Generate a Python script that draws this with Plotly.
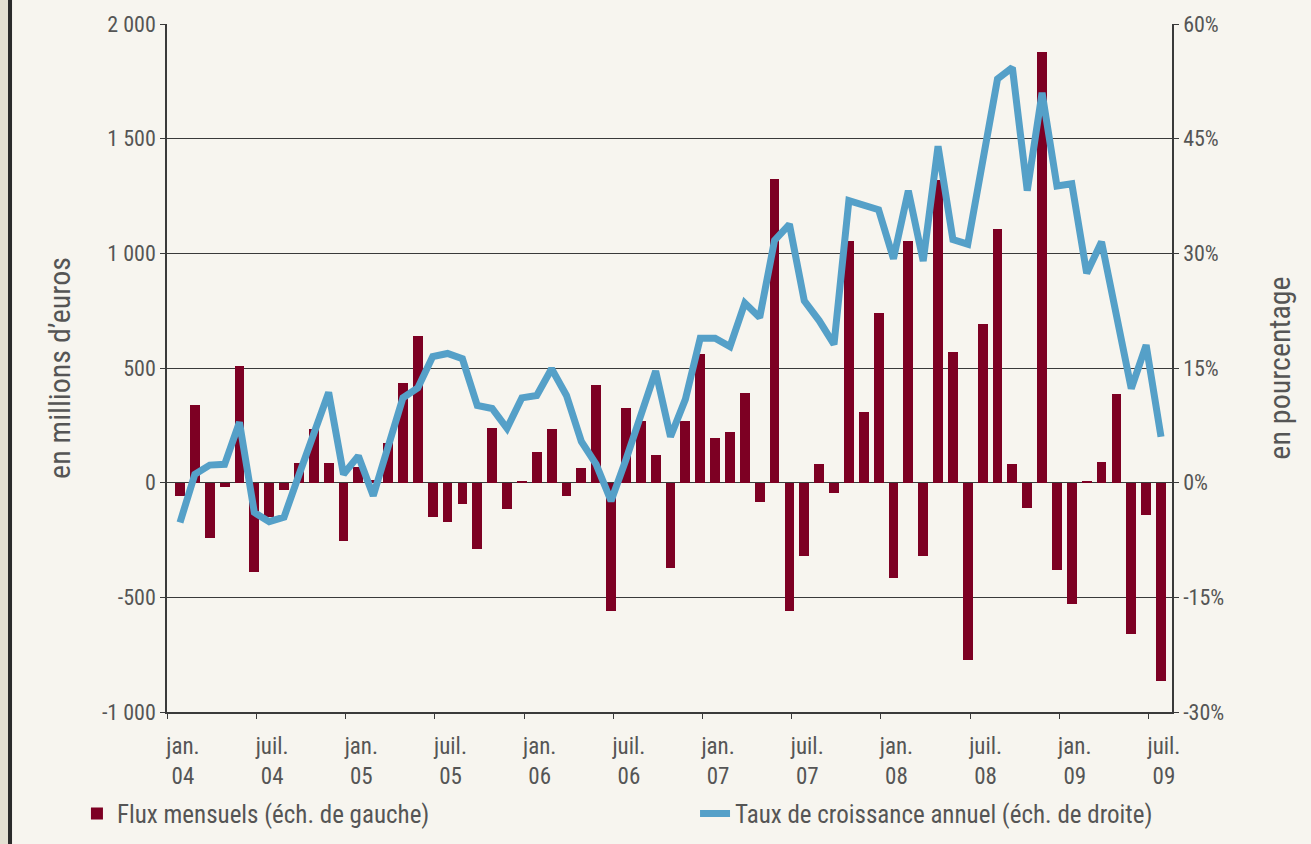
import plotly.graph_objects as go

# ---- data ----
# monthly index: jan 2004 ... jul 2009 (67 months)
flux_mensuels = [
    -60, 340, -240, -20, 510, -390, -150, -30, 85, 235, 85, -255,      # 2004
    70, 10, 175, 435, 640, -150, -170, -95, -290, 240, -115, 8,        # 2005
    135, 235, -60, 65, 425, -560, 325, 270, 120, -370, 270, 560,       # 2006
    195, 220, 390, -85, 1325, -560, -320, 80, -45, 1055, 310, 740,     # 2007
    -415, 1055, -320, 1320, 570, -775, 690, 1105, 80, -110, 1880, -380,  # 2008
    -530, 5, 90, 385, -660, -140, -865,                                # 2009
]
taux_croissance = [
    -5.2, 1.1, 2.3, 2.4, 7.9, -3.9, -5.1, -4.5, 1.0, 6.4, 11.8, 1.1,
    3.5, -1.7, 4.8, 11.1, 12.4, 16.5, 16.9, 16.2, 10.1, 9.7, 7.1, 11.1,
    11.4, 14.9, 11.4, 5.4, 2.4, -2.4, 3.0, 8.8, 14.6, 6.0, 10.9, 18.9,
    18.9, 17.8, 23.5, 21.6, 31.7, 33.8, 23.8, 21.2, 18.1, 36.9, 36.2, 35.7,
    29.3, 38.2, 29.0, 44.0, 31.8, 31.2, 42.0, 52.8, 54.3, 38.2, 51.0, 38.8,
    39.1, 27.4, 31.5, 22.0, 12.3, 18.0, 6.0,
]
x_labels = ["jan.<br>04", "juil.<br>04", "jan.<br>05", "juil.<br>05", "jan.<br>06",
            "juil.<br>06", "jan.<br>07", "juil.<br>07", "jan.<br>08", "juil.<br>08",
            "jan.<br>09", "juil.<br>09"]
y_left_vals = [-1000, -500, 0, 500, 1000, 1500, 2000]
y_left_text = ["-1 000", "-500", "0", "500", "1 000", "1 500", "2 000"]
y_right_vals = [-30, -15, 0, 15, 30, 45, 60]
y_right_text = ["-30%", "-15%", "0%", "15%", "30%", "45%", "60%"]

months = list(range(len(flux_mensuels)))

FONT = "Roboto Condensed, Roboto, sans-serif"
TXT = "#555555"
AX = "#3a3a3a"
BG = "#F7F5EF"

fig = go.Figure()
fig.add_trace(go.Bar(
    x=months, y=flux_mensuels, name="Flux mensuels (éch. de gauche)",
    marker=dict(color="#7D0023", line=dict(width=0)), width=0.66, yaxis="y",
    legend="legend",
))
fig.add_trace(go.Scatter(
    x=months, y=taux_croissance, name="Taux de croissance annuel (éch. de droite)",
    mode="lines", line=dict(color="#55A0C8", width=7), yaxis="y2",
    legend="legend2",
))

leg_common = dict(orientation="h", xanchor="left", yanchor="middle", y=-0.148,
                  font=dict(size=25, color=TXT, family=FONT), bgcolor="rgba(0,0,0,0)")

fig.update_layout(
    width=1311, height=844,
    margin=dict(l=167, r=139, t=24, b=132, autoexpand=False),
    paper_bgcolor=BG, plot_bgcolor=BG,
    font=dict(family=FONT, color=TXT),
    showlegend=True,
    legend=dict(x=-0.0896, **leg_common),
    legend2=dict(x=0.5254, **leg_common),
    bargap=0,
    xaxis=dict(
        range=[-0.875, 66.74], showgrid=False, zeroline=False, automargin=False,
        showline=True, linecolor=AX, linewidth=1.5,
        tickmode="array", tickvals=[6 * k + 0.2 for k in range(12)], ticktext=x_labels,
        ticks="", tickfont=dict(size=23, color=TXT, family=FONT), ticklabelstandoff=13,
        minor=dict(tickmode="array", tickvals=[6 * k - 0.85 for k in range(12)],
                   ticks="outside", ticklen=5, tickcolor=AX, tickwidth=1.2, showgrid=False),
    ),
    yaxis=dict(
        range=[-1000, 2000], tickmode="array", tickvals=y_left_vals, ticktext=y_left_text,
        showgrid=True, gridcolor=AX, gridwidth=1.3, zeroline=False, automargin=False,
        showline=True, linecolor=AX, linewidth=1.5,
        ticks="outside", ticklen=5, tickcolor=AX, tickwidth=1.2,
        tickfont=dict(size=22, color=TXT, family=FONT),
        title=dict(text="en millions d’euros", font=dict(size=30, color=TXT, family=FONT), standoff=22),
    ),
    yaxis2=dict(
        range=[-30, 60], overlaying="y", side="right", anchor="x", automargin=False,
        tickmode="array", tickvals=y_right_vals, ticktext=y_right_text,
        showgrid=False, zeroline=False,
        showline=True, linecolor=AX, linewidth=1.5,
        ticks="outside", ticklen=5, tickcolor=AX, tickwidth=1.2,
        tickfont=dict(size=22, color=TXT, family=FONT),
        title=dict(text="en pourcentage", font=dict(size=30, color=TXT, family=FONT), standoff=46),
    ),
    shapes=[
        dict(type="rect", xref="paper", yref="paper", x0=-0.1662, x1=-0.1582, y0=-0.2, y1=1.04,
             fillcolor="#E4E0D2", line=dict(width=0), layer="below"),
        dict(type="rect", xref="paper", yref="paper", x0=-0.1582, x1=-0.1542, y0=-0.2, y1=1.04,
             fillcolor="#2b2b2b", line=dict(width=0), layer="below"),
    ],
)

fig.write_html("out.html", config={"displayModeBar": False},
               post_script="document.body.style.margin='0';")
